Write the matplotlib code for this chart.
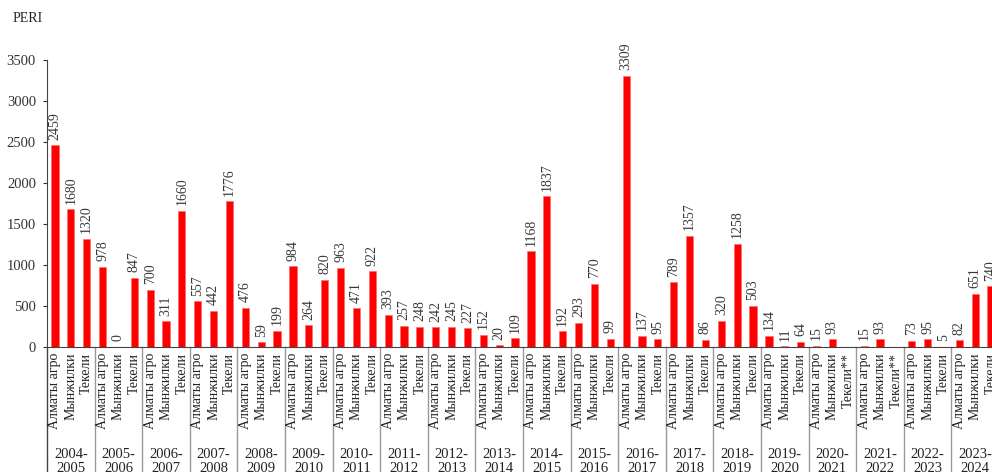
import numpy as np
import matplotlib
matplotlib.use("Agg")
import matplotlib.pyplot as plt

plt.rcParams['font.family'] = ['Liberation Serif', 'DejaVu Serif']

seasons = ["2004-\n2005", "2005-\n2006", "2006-\n2007", "2007-\n2008", "2008-\n2009",
           "2009-\n2010", "2010-\n2011", "2011-\n2012", "2012-\n2013", "2013-\n2014",
           "2014-\n2015", "2015-\n2016", "2016-\n2017", "2017-\n2018", "2018-\n2019",
           "2019-\n2020", "2020-\n2021", "2021-\n2022", "2022-\n2023", "2023-\n2024"]

almaty = [2459, 978, 700, 557, 476, 984, 963, 393, 242, 152,
          1168, 293, 3309, 789, 320, 134, 15, 15, 73, 82]
mynzhilki = [1680, 0, 311, 442, 59, 264, 471, 257, 245, 20,
             1837, 770, 137, 1357, 1258, 11, 93, 93, 95, 651]
tekeli = [1320, 847, 1660, 1776, 199, 820, 922, 248, 227, 109,
          192, 99, 95, 86, 503, 64, None, None, 5, 740]

station_names = ["Алматы агро", "Мынжилки", "Текели"]
tekeli_note = [False] * 16 + [True, True, False, False]

# flatten into one bar per slot
values = []
labels = []
for g in range(len(seasons)):
    values += [almaty[g], mynzhilki[g], tekeli[g]]
    labels += [station_names[0], station_names[1],
               station_names[2] + ("**" if tekeli_note[g] else "")]
x = np.arange(len(values))
heights = [np.nan if v is None else v for v in values]

fig = plt.figure(figsize=(9.92, 4.72), dpi=100)
ax = fig.add_axes([47 / 992, 1 - 347 / 472, 952 / 992, 287 / 472])

ax.bar(x, heights, width=0.45, color='#ff0000', edgecolor='#ff6666', linewidth=0.4)

for xi, v in zip(x, values):
    if v is None:
        continue
    ax.annotate(str(v), xy=(xi, v), xytext=(0, 4), textcoords='offset points',
                rotation=90, ha='center', va='bottom', fontsize=10, color='#383838',
                annotation_clip=False)

ax.set_xlim(-0.5, len(values) - 0.5)
ax.set_ylim(0, 3500)
ax.set_yticks(np.arange(0, 3501, 500))
ax.tick_params(axis='y', length=3, pad=5, labelsize=10.5, colors='#333333', direction='out')
ax.set_xticks([])
for s in ['top', 'right']:
    ax.spines[s].set_visible(False)
ax.spines['left'].set_color('#444444')
ax.spines['bottom'].set_color('#444444')

trans = ax.get_xaxis_transform()
for g in range(len(seasons) + 1):
    xs = g * 3 - 0.5
    ax.plot([xs, xs], [0, -0.5], transform=trans, color='#444444' if g == 0 else '#999999',
            linewidth=1, clip_on=False)

for xi, lab in zip(x, labels):
    ax.annotate(lab, xy=(xi, 0), xycoords=trans, xytext=(0, -4),
                textcoords='offset points', rotation=90, ha='center', va='top',
                fontsize=10, color='#222222', annotation_clip=False)

for g, s in enumerate(seasons):
    ax.annotate(s, xy=(g * 3 + 1, 0), xycoords=trans, xytext=(0, -73),
                textcoords='offset points', ha='center', va='top',
                fontsize=10.5, color='#222222', linespacing=1.05, annotation_clip=False)

fig.text(28 / 992, 1 - 19 / 472, "PERI", ha='center', va='center', fontsize=10, color='#222222')

fig.savefig("out.png", dpi=100)
